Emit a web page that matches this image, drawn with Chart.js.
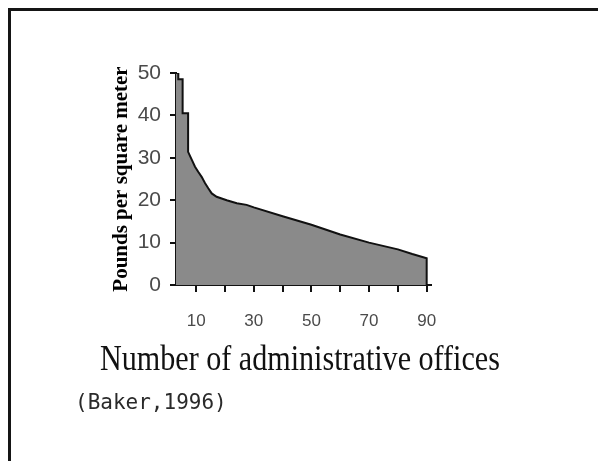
<!DOCTYPE html>
<html>
<head>
<meta charset="utf-8">
<script src="https://cdn.jsdelivr.net/npm/chart.js@4.4.1/dist/chart.umd.min.js"></script>
<style>
    html, body { margin: 0; padding: 0; background: #fff; }
    #wrap { position: relative; width: 598px; height: 461px; overflow: hidden; }
    #frame {
        position: absolute; left: 8px; top: 8px; width: 600px; height: 460px;
        border-top: 3px solid #151515; border-left: 3px solid #151515;
    }
    #chart { position: absolute; left: 0; top: 0; }
    #xtitle {
        position: absolute; left: 0; top: 341px; width: 600px; text-align: center;
        font: 35px/35px "Liberation Serif", "Times New Roman", serif; color: #111;
        transform: scaleX(0.86); transform-origin: 300px 0;
        white-space: nowrap;
    }
    #source {
        position: absolute; left: 75px; top: 392px;
        font: 21px/21px "DejaVu Sans Mono", monospace; color: #2a2a2a;
    }
</style>
</head>
<body>
<div id="wrap">
    <div id="frame"></div>
    <canvas id="chart" width="598" height="461"></canvas>
    <div id="xtitle">Number of administrative offices</div>
    <div id="source">(Baker,1996)</div>
</div>
<script>
    // --- 数据：办公室数量 (x) 与 每平方米磅数 (y) ---
    const officeCounts = [3, 3.8, 3.8, 5.3, 5.3, 7.2, 7.2, 8.5, 9.6, 10.7, 11.9, 13.1, 14.2, 15.4, 17.1, 20.6, 24.1, 27.5, 30, 40, 50, 60, 70, 80, 85, 90, 90];
    const poundsPerSqm = [50, 50, 48.5, 48.5, 40.5, 40.5, 31.4, 29.5, 27.9, 26.7, 25.5, 24.0, 22.8, 21.6, 20.8, 20.0, 19.3, 18.9, 18.3, 16.2, 14.2, 11.9, 10.0, 8.4, 7.3, 6.3, 0];
    const xLabelled = [10, 30, 50, 70, 90];

    const AXIS_COLOR = '#111';
    const TICK_FONT = "'Liberation Sans', Arial, sans-serif";

    const points = officeCounts.map((x, i) => ({ x: x, y: poundsPerSqm[i] }));

    new Chart(document.getElementById('chart').getContext('2d'), {
        type: 'line',
        data: {
            datasets: [{
                data: points,
                borderColor: '#111',
                borderWidth: 2,
                backgroundColor: '#8a8a8a',
                fill: 'origin',
                tension: 0,
                pointRadius: 0
            }]
        },
        options: {
            responsive: false,
            animation: false,
            layout: { padding: { left: 100, top: 73, right: 167, bottom: 76 } },
            plugins: { legend: { display: false }, tooltip: { enabled: false } },
            scales: {
                x: {
                    type: 'linear',
                    min: 3,
                    max: 91.5,
                    afterFit: scale => { scale.height = 100; },
                    border: { display: true, color: AXIS_COLOR, width: 2 },
                    grid: { drawOnChartArea: false, drawTicks: true, tickLength: 7, color: AXIS_COLOR, lineWidth: 2 },
                    ticks: {
                        stepSize: 10,
                        includeBounds: false,
                        maxRotation: 0,
                        padding: 19,
                        color: '#4a4a4a',
                        font: { family: TICK_FONT, size: 17 },
                        callback: value => xLabelled.includes(value) ? String(value) : ''
                    }
                },
                y: {
                    min: 0,
                    max: 50,
                    afterFit: scale => { scale.width = 76; },
                    border: { display: true, color: AXIS_COLOR, width: 2 },
                    grid: { drawOnChartArea: false, drawTicks: true, tickLength: 6, color: AXIS_COLOR, lineWidth: 2 },
                    ticks: {
                        stepSize: 10,
                        padding: 9,
                        color: '#4a4a4a',
                        font: { family: TICK_FONT, size: 21 }
                    },
                    title: {
                        display: true,
                        text: 'Pounds per square meter',
                        color: '#000',
                        font: { family: "'Liberation Serif', 'Times New Roman', serif", size: 21, weight: 'bold' },
                        padding: { top: 9, bottom: 0 }
                    }
                }
            }
        }
    });
</script>
</body>
</html>
